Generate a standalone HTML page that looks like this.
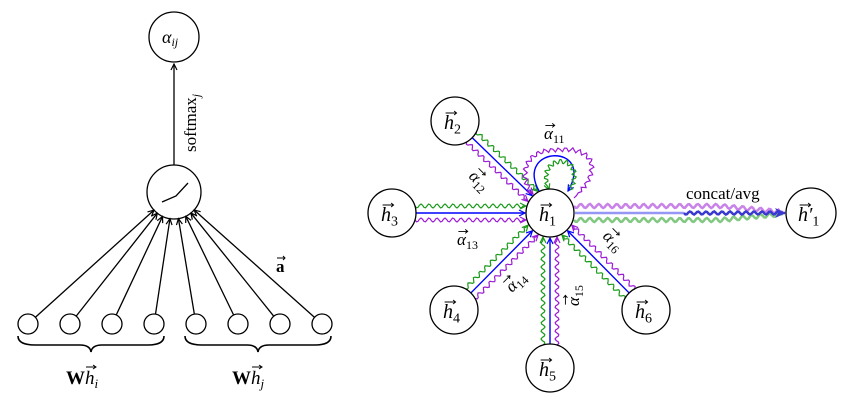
<!DOCTYPE html>
<html><head><meta charset="utf-8"><style>
html,body{margin:0;padding:0;background:#fff;}
svg{display:block;font-family:"Liberation Serif",serif;}
</style></head><body>
<svg id="s" width="841" height="406" viewBox="0 0 841 406" xmlns="http://www.w3.org/2000/svg">
<defs>
<marker id="ak" markerWidth="8" markerHeight="8" refX="7" refY="4" orient="auto" markerUnits="userSpaceOnUse"><path d="M1,1 L7,4 L1,7" fill="none" stroke="#000" stroke-width="1.2"/></marker>
<marker id="ab" markerWidth="8" markerHeight="8" refX="7" refY="4" orient="auto" markerUnits="userSpaceOnUse"><path d="M1,1 L7,4 L1,7" fill="none" stroke="#00f" stroke-width="1.2"/></marker>
<marker id="ag" markerWidth="8" markerHeight="8" refX="7" refY="4" orient="auto" markerUnits="userSpaceOnUse"><path d="M1,1 L7,4 L1,7" fill="none" stroke="#1a9a1a" stroke-width="1.2"/></marker>
<marker id="ap" markerWidth="8" markerHeight="8" refX="7" refY="4" orient="auto" markerUnits="userSpaceOnUse"><path d="M1,1 L7,4 L1,7" fill="none" stroke="#9b1bd6" stroke-width="1.2"/></marker>
<marker id="abig" markerWidth="12" markerHeight="12" refX="10" refY="6" orient="auto" markerUnits="userSpaceOnUse"><path d="M0,1 L11,6 L0,11 L3,6Z" fill="#3a3ad0"/></marker>
</defs>
<g stroke="#000" stroke-width="1.3" fill="none">
<circle cx="174" cy="37" r="25" fill="#fff"/>
<circle cx="174" cy="192" r="27" fill="#fff"/>
<path d="M162,202 L176,196 L188,183"/>
<line x1="174" y1="165" x2="174" y2="64" marker-end="url(#ak)"/>
</g>
<text x="162" y="43" font-size="18" font-style="italic">α<tspan font-size="12" dy="3">ij</tspan></text>
<text transform="translate(196,152) rotate(-90)" font-size="17">softmax<tspan font-size="12" dy="4" font-style="italic">j</tspan></text>
<text x="276" y="272" font-size="17" font-weight="bold">a</text>
<path d="M277,258 h8 M283,256 l2,2 l-2,2" stroke="#000" stroke-width="1" fill="none"/>
<g font-size="19">
<text x="66" y="384"><tspan font-weight="bold">W</tspan><tspan font-style="italic">h</tspan><tspan font-size="13" font-style="italic" dy="4">i</tspan></text>
<text x="232" y="384"><tspan font-weight="bold">W</tspan><tspan font-style="italic">h</tspan><tspan font-size="13" font-style="italic" dy="4">j</tspan></text>
</g>
<path d="M86,367 h10 M93,365 l3,2 l-3,2 M252,367 h10 M259,365 l3,2 l-3,2" stroke="#000" stroke-width="1" fill="none"/>
<path d="M18,336 Q18,345 35,345 L80,345 Q90,345 91,352 Q92,345 102,345 L148,345 Q164,345 164,336" fill="none" stroke="#000" stroke-width="1.6"/>
<path d="M185,336 Q185,345 202,345 L247,345 Q257,345 258,352 Q259,345 269,345 L315,345 Q331,345 331,336" fill="none" stroke="#000" stroke-width="1.6"/>
<g id="lin" stroke="#000" stroke-width="1.3" fill="#fff"></g>
<g id="right" fill="none"></g>
<g stroke="#000" stroke-width="1.3" fill="#fff">
<circle cx="550" cy="213" r="24"/><circle cx="455" cy="121" r="24"/><circle cx="392" cy="213" r="24"/>
<circle cx="454" cy="310" r="24"/><circle cx="550" cy="368" r="24"/><circle cx="646" cy="310" r="24"/>
<circle cx="811" cy="213" r="25"/>
</g>
<g id="lbl"></g>
<text x="686" y="199" font-size="17">concat/avg</text>
</svg>
<script>
var NS="http://www.w3.org/2000/svg";
function el(p,t,a){var e=document.createElementNS(NS,t);for(var k in a)e.setAttribute(k,a[k]);p.appendChild(e);return e;}
var lin=document.getElementById("lin");
var xs=[28,70,112,154,196,238,280,322];
xs.forEach(function(x){
  var dx=174-x, dy=192-324, d=Math.hypot(dx,dy);
  el(lin,"line",{x1:x+dx/d*10,y1:324+dy/d*10,x2:174-dx/d*27,y2:192-dy/d*27,"marker-end":"url(#ak)"});
});
xs.forEach(function(x){el(lin,"circle",{cx:x,cy:324,r:10});});
var L=document.getElementById("lbl");
function vlabel(x,y,rot,sym,sub,fs,prime){
  var g=el(L,"g",{transform:"translate("+x+","+y+") rotate("+rot+")"});
  var t=el(g,"text",{x:0,y:0,"font-size":fs,"font-style":"italic"});
  t.textContent=sym+(prime?"′":"");
  var s=el(t,"tspan",{"font-size":Math.round(fs*0.68),"font-style":"normal",dy:fs*0.22});
  s.textContent=sub;
  var w=fs*0.55, h=fs*0.8;
  el(g,"path",{d:"M"+(fs*0.08)+","+(-h)+" h"+w+" m-2.5,-2 l2.5,2 l-2.5,2",stroke:"#000","stroke-width":0.9,fill:"none"});
}
vlabel(539,221,0,"h","1",20);
vlabel(444,129,0,"h","2",20);
vlabel(381,221,0,"h","3",20);
vlabel(443,318,0,"h","4",20);
vlabel(539,376,0,"h","5",20);
vlabel(635,318,0,"h","6",20);
vlabel(798,221,0,"h","1",20,true);
vlabel(544,139,0,"α","11",17);
vlabel(468,177,45,"α","12",17);
vlabel(457,245,0,"α","13",17);
vlabel(512,293,-45,"α","14",17);
vlabel(579,306,-90,"α","15",17);
vlabel(602,237,45,"α","16",17);
var R=document.getElementById("right");
function wave(pts,amp,wl){
  var out=[],acc=0;
  for(var i=0;i<pts.length;i++){
    var p=pts[i],q=pts[Math.min(i+1,pts.length-1)],o=pts[Math.max(i-1,0)];
    var tx=q[0]-o[0],ty=q[1]-o[1],l=Math.hypot(tx,ty)||1;
    if(i>0)acc+=Math.hypot(p[0]-pts[i-1][0],p[1]-pts[i-1][1]);
    var off=amp*Math.sin(acc/wl*2*Math.PI);
    if(i>pts.length-4)off=0;
    out.push([p[0]-ty/l*off,p[1]+tx/l*off]);
  }
  return "M"+out.map(function(p){return p[0].toFixed(1)+","+p[1].toFixed(1)}).join(" L");
}
function line(a,b,n){var r=[];for(var i=0;i<=n;i++)r.push([a[0]+(b[0]-a[0])*i/n,a[1]+(b[1]-a[1])*i/n]);return r;}
function curve(p0,p1,p2,p3,n){var r=[];for(var i=0;i<=n;i++){var t=i/n,m=1-t;r.push([m*m*m*p0[0]+3*m*m*t*p1[0]+3*m*t*t*p2[0]+t*t*t*p3[0],m*m*m*p0[1]+3*m*m*t*p1[1]+3*m*t*t*p2[1]+t*t*t*p3[1]]);}return r;}
var C=[550,213],G="#1a9a1a",P="#9b1bd6",B="#0000ff";
[[455,121],[392,213],[454,310],[550,368],[646,310]].forEach(function(s){
  var dx=C[0]-s[0],dy=C[1]-s[1],d=Math.hypot(dx,dy),ux=dx/d,uy=dy/d,nx=-uy,ny=ux;
  el(R,"line",{x1:s[0]+ux*24,y1:s[1]+uy*24,x2:C[0]-ux*25,y2:C[1]-uy*25,stroke:B,"stroke-width":1.4,"marker-end":"url(#ab)"});
  var o=7;
  [[G,-o,"ag"],[P,o,"ap"]].forEach(function(c){
    var off=c[1], k=Math.sqrt(625-off*off), k2=Math.sqrt(576-off*off);
    var a2=[s[0]+ux*k2+nx*off,s[1]+uy*k2+ny*off];
    var b2=[C[0]-ux*k+nx*off,C[1]-uy*k+ny*off];
    var n=Math.floor(Math.hypot(b2[0]-a2[0],b2[1]-a2[1])/1.5);
    el(R,"path",{d:wave(line(a2,b2,n),2,8),stroke:c[0],"stroke-width":1.2,"marker-end":"url(#"+c[2]+")"});
  });
});
el(R,"path",{d:"M539,191 C514,145 596,143 568,191",stroke:B,"stroke-width":1.4,"marker-end":"url(#ab)"});
el(R,"path",{d:wave(curve([570,190],[590,152],[533,152],[549,190],60),2.2,6),stroke:G,"stroke-width":1.2,"marker-end":"url(#ag)"});
el(R,"path",{d:wave(curve([574,198],[608,165],[588,146],[558,150],40).concat(curve([558,150],[523,148],[518,178],[533,194],40).slice(1)),2.2,7),stroke:P,"stroke-width":1.2,"marker-end":"url(#ap)"});
el(R,"path",{d:wave(line([574,206],[720,206],100).concat(line([720,206],[783,212],40).slice(1)),2,9),stroke:P,"stroke-width":2.5,opacity:0.55});
el(R,"path",{d:wave(line([574,220],[720,220],100).concat(line([720,220],[783,214],40).slice(1)),2,9),stroke:G,"stroke-width":2.5,opacity:0.55});
el(R,"line",{x1:575,y1:213,x2:684,y2:213,stroke:"#6a6af0","stroke-width":2.5,opacity:0.7});
el(R,"path",{d:wave(line([684,213],[785,213],70),1.5,8),stroke:"#3a3ad0","stroke-width":2.5,"marker-end":"url(#abig)"});
</script>
</body></html>
